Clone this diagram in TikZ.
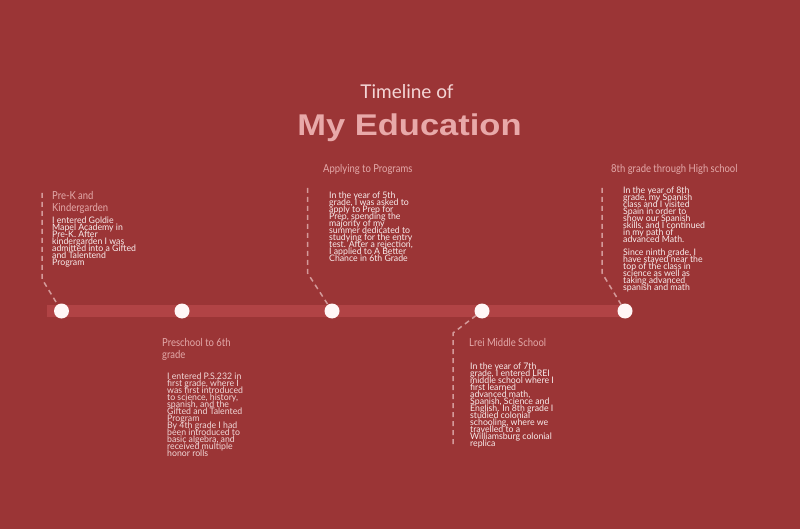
\documentclass[tikz,border=0pt]{standalone}
\usepackage{fontspec}
\setmainfont{Lato}
\newfontfamily\headfont[FakeStretch=0.86]{Lato}
\newfontfamily\titlefont[FakeStretch=1.15]{Liberation Sans}
\newfontfamily\bodyfont[FakeStretch=0.97]{Lato}
\newcommand\mytightls{\lineskiplimit-100pt\lineskip0pt\relax}
\definecolor{bg}{HTML}{9B3536}
\definecolor{barc}{HTML}{B14345}
\definecolor{dot}{HTML}{FFF6F6}
\definecolor{titlepink}{HTML}{E8A9A9}
\definecolor{sublight}{HTML}{F4D6D6}
\definecolor{headpink}{HTML}{E3AAAA}
\definecolor{bodyc}{HTML}{F8ECEC}
\definecolor{bodyc2}{HTML}{F1D9D9}
\definecolor{dashc}{HTML}{D49A9A}
\tikzset{
  dotnode/.style={circle,fill=dot,draw=none,minimum size=15pt,inner sep=0pt},
  heading/.style={anchor=north west,inner sep=0pt,align=left,text=headpink,font=\headfont\fontsize{11}{12}\selectfont\mytightls},
  body/.style={anchor=north west,inner sep=0pt,align=left,text=bodyc,font=\bodyfont\fontsize{9}{7}\selectfont\mytightls},
  dashline/.style={draw=dashc,line width=1.5pt,dash pattern=on 5pt off 4pt}
}
\begin{document}
\begin{tikzpicture}[x=1pt,y=-1pt]
\useasboundingbox (0,0) rectangle (800,529);
\fill[bg] (0,0) rectangle (800,529);
% titles
\node[inner sep=0pt,text=sublight,font=\fontsize{19}{22}\selectfont] (t1) at (407,92) {Timeline of};
\node[inner sep=0pt,text=titlepink,font=\titlefont\bfseries\fontsize{30}{32}\selectfont] (t2) at (409.5,128) {My Education};
% bar
\fill[barc] (47,305) rectangle (625,317);
% dots
\node[dotnode] (c1) at (61.5,311) {};
\node[dotnode] (c2) at (182,311) {};
\node[dotnode] (c3) at (332,311) {};
\node[dotnode] (c4) at (482,311) {};
\node[dotnode] (c5) at (625,311) {};
% connectors
\coordinate (k1top) at (42,193);
\coordinate (k1bend) at (42,279);
\coordinate (k3top) at (307.5,188);
\coordinate (k3bend) at (307.5,273);
\coordinate (k5top) at (602,188);
\coordinate (k5bend) at (602,273);
\coordinate (k4bot) at (453,444);
\coordinate (k4bend) at (453,333);
\draw[dashline] (k1top) -- (k1bend) -- (c1);
\draw[dashline] (k3top) -- (k3bend) -- (c3);
\draw[dashline] (k5top) -- (k5bend) -- (c5);
\draw[dashline] (k4bot) -- (k4bend) -- (c4);
% headings
\node[heading] (h1) at (52,191) {Pre-K and\\Kindergarden};
\node[heading] (h2) at (323,164.5) {Applying to Programs};
\node[heading] (h3) at (611,164.5) {8th grade through High school};
\node[heading] (h4) at (162,338.5) {Preschool to 6th\\grade};
\node[heading] (h5) at (469,338.5) {Lrei Middle School};
% bodies
\node[body] (b1) at (52,216.5) {I entered Goldie\\Mapel Academy in\\Pre-K. After\\kindergarden I was\\admitted into a Gifted\\and Talentend\\Program};
\node[body] (b2) at (329,191.5) {In the year of 5th\\grade, I was asked to\\apply to Prep for\\Prep, spending the\\majority of my\\summer dedicated to\\studying for the entry\\test. After a rejection,\\I applied to A Better\\Chance in 6th Grade};
\node[body] (b3) at (623,186.5) {In the year of 8th\\grade, my Spanish\\class and I visited\\Spain in order to\\show our Spanish\\skills, and I continued\\in my path of\\advanced Math.\\[6.5pt]Since ninth grade, I\\have stayed near the\\top of the class in\\science as well as\\taking advanced\\spanish and math};
\node[body,text=bodyc2] (b4) at (167,372.5) {I entered P.S.232 in\\first grade, where I\\was first introduced\\to science, history,\\spanish, and the\\Gifted and Talented\\Program\\By 4th grade I had\\been introduced to\\basic algebra, and\\received multiple\\honor rolls};
\node[body] (b5) at (470,362.5) {In the year of 7th\\grade, I entered LREI\\middle school where I\\first learned\\advanced math,\\Spanish, Science and\\English. In 8th grade I\\studied colonial\\schooling, where we\\travelled to a\\Williamsburg colonial\\replica};
\end{tikzpicture}
\end{document}
